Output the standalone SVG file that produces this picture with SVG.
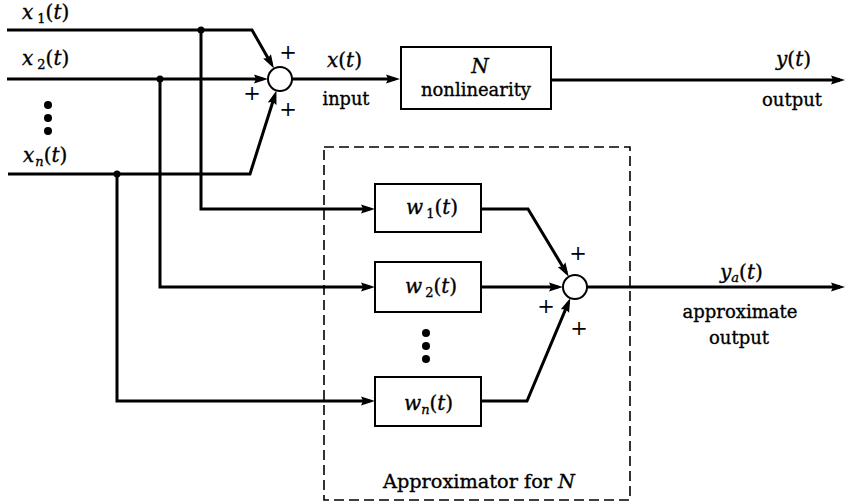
<svg xmlns="http://www.w3.org/2000/svg" width="846" height="503" viewBox="0 0 846 503">
  <style>
    text { font-family: "DejaVu Serif", "Liberation Serif", serif; font-size: 19px; fill: #000; stroke: #000; stroke-width: 0.35; }
    .var { font-size: 20px; }
    .it { font-style: italic; }
    .sub { font-size: 13px; }
    .plus { font-size: 21px; text-anchor: middle; stroke-width: 0; }
    .mid { text-anchor: middle; }
    .box { fill: #fff; stroke: #000; stroke-width: 2; }
    .sum { fill: #fff; stroke: #000; stroke-width: 2; }
    .wire { fill: none; stroke: #000; stroke-width: 3; stroke-linejoin: miter; }
    .arrow { marker-end: url(#head); }
    .frame { fill: none; stroke: #000; stroke-width: 1.6; stroke-dasharray: 10 5; }
  </style>
  <defs>
    <marker id="head" markerUnits="userSpaceOnUse" markerWidth="15" markerHeight="10" refX="9" refY="5" orient="auto">
      <path d="M0,0.5 L14,5 L0,9.5 L2,5 z" fill="#000"/>
    </marker>
  </defs>

  <rect width="846" height="503" fill="#fff"/>

  <!-- dashed boundary of the approximator -->
  <g id="approximator">
    <rect class="frame" x="324" y="147" width="306" height="353"/>
    <text x="479" y="488" class="mid" textLength="192" lengthAdjust="spacingAndGlyphs">Approximator for <tspan class="it">N</tspan></text>
  </g>

  <!-- signal lines -->
  <g id="connectors">
    <!-- inputs into the first summing junction -->
    <path class="wire arrow" d="M7,30 H252 L271.5,64.2"/>
    <path class="wire arrow" d="M7,79 H263"/>
    <path class="wire arrow" d="M8,174 H250 L274.9,95.2"/>
    <!-- x(t) into the nonlinearity, y(t) out -->
    <path class="wire arrow" d="M292,79 H395"/>
    <path class="wire arrow" d="M551,80 H840"/>
    <!-- taps feeding the filters -->
    <path class="wire arrow" d="M201,30 V209 H370"/>
    <path class="wire arrow" d="M160,79 V287 H370"/>
    <path class="wire arrow" d="M117,174 V401 H370"/>
    <!-- filter outputs into the second summing junction -->
    <path class="wire arrow" d="M481,209 H528 L566.2,272.4"/>
    <path class="wire arrow" d="M481,287 H558"/>
    <path class="wire arrow" d="M481,401 H527 L568.4,302.7"/>
    <!-- approximate output -->
    <path class="wire arrow" d="M587,287 H840"/>
    <!-- branch points -->
    <circle cx="201" cy="30" r="3.5" fill="#000"/>
    <circle cx="160" cy="79" r="3.5" fill="#000"/>
    <circle cx="117" cy="174" r="3.5" fill="#000"/>
  </g>

  <!-- input labels -->
  <g id="inputs">
    <text class="var" x="22" y="19"><tspan class="it">x</tspan><tspan class="sub" dx="4" dy="4">1</tspan><tspan dy="-4">(</tspan><tspan class="it">t</tspan>)</text>
    <text class="var" x="22" y="65"><tspan class="it">x</tspan><tspan class="sub" dx="4" dy="4">2</tspan><tspan dy="-4">(</tspan><tspan class="it">t</tspan>)</text>
    <text class="var" x="23" y="162"><tspan class="it">x</tspan><tspan class="sub it" dx="1" dy="4">n</tspan><tspan dy="-4">(</tspan><tspan class="it">t</tspan>)</text>
    <circle cx="48" cy="105" r="4" fill="#000"/>
    <circle cx="48" cy="118" r="4" fill="#000"/>
    <circle cx="48" cy="131" r="4" fill="#000"/>
  </g>

  <!-- first summing junction -->
  <g id="sum1">
    <circle class="sum" cx="280" cy="79" r="12"/>
    <text class="plus" x="288" y="59">+</text>
    <text class="plus" x="252" y="100">+</text>
    <text class="plus" x="288" y="116">+</text>
    <text class="var" x="327" y="67"><tspan class="it">x</tspan>(<tspan class="it">t</tspan>)</text>
    <text x="346" y="105" class="mid" textLength="47" lengthAdjust="spacingAndGlyphs">input</text>
  </g>

  <!-- nonlinearity block -->
  <g id="nonlinearity">
    <rect class="box" x="401" y="47" width="150" height="62"/>
    <text x="480" y="73" class="mid it var">N</text>
    <text x="476" y="96" class="mid" textLength="110" lengthAdjust="spacingAndGlyphs">nonlinearity</text>
  </g>

  <!-- actual output labels -->
  <g id="output">
    <text class="var" x="776" y="66"><tspan class="it">y</tspan>(<tspan class="it">t</tspan>)</text>
    <text x="792" y="106" class="mid" textLength="60" lengthAdjust="spacingAndGlyphs">output</text>
  </g>

  <!-- filter blocks -->
  <g id="w1">
    <rect class="box" x="375" y="184" width="106" height="48"/>
    <text class="var" x="406" y="214"><tspan class="it">w</tspan><tspan class="sub" dx="3" dy="4">1</tspan><tspan dy="-4">(</tspan><tspan class="it">t</tspan>)</text>
  </g>
  <g id="w2">
    <rect class="box" x="375" y="262" width="106" height="50"/>
    <text class="var" x="405" y="293"><tspan class="it">w</tspan><tspan class="sub" dx="3" dy="4">2</tspan><tspan dy="-4">(</tspan><tspan class="it">t</tspan>)</text>
  </g>
  <g id="wdots">
    <circle cx="426" cy="333" r="4" fill="#000"/>
    <circle cx="426" cy="346" r="4" fill="#000"/>
    <circle cx="426" cy="359" r="4" fill="#000"/>
  </g>
  <g id="wn">
    <rect class="box" x="375" y="377" width="106" height="49"/>
    <text class="var" x="404" y="410"><tspan class="it">w</tspan><tspan class="sub it" dy="4">n</tspan><tspan dy="-4">(</tspan><tspan class="it">t</tspan>)</text>
  </g>

  <!-- second summing junction -->
  <g id="sum2">
    <circle class="sum" cx="575" cy="287" r="12"/>
    <text class="plus" x="578" y="260">+</text>
    <text class="plus" x="546" y="313">+</text>
    <text class="plus" x="579" y="335">+</text>
  </g>

  <!-- approximate output labels -->
  <g id="approx-output">
    <text class="var" x="720" y="279"><tspan class="it">y</tspan><tspan class="sub it" dy="3">a</tspan><tspan dy="-3">(</tspan><tspan class="it">t</tspan>)</text>
    <text x="740" y="318" class="mid" textLength="115" lengthAdjust="spacingAndGlyphs">approximate</text>
    <text x="739" y="344" class="mid" textLength="60" lengthAdjust="spacingAndGlyphs">output</text>
  </g>
</svg>
